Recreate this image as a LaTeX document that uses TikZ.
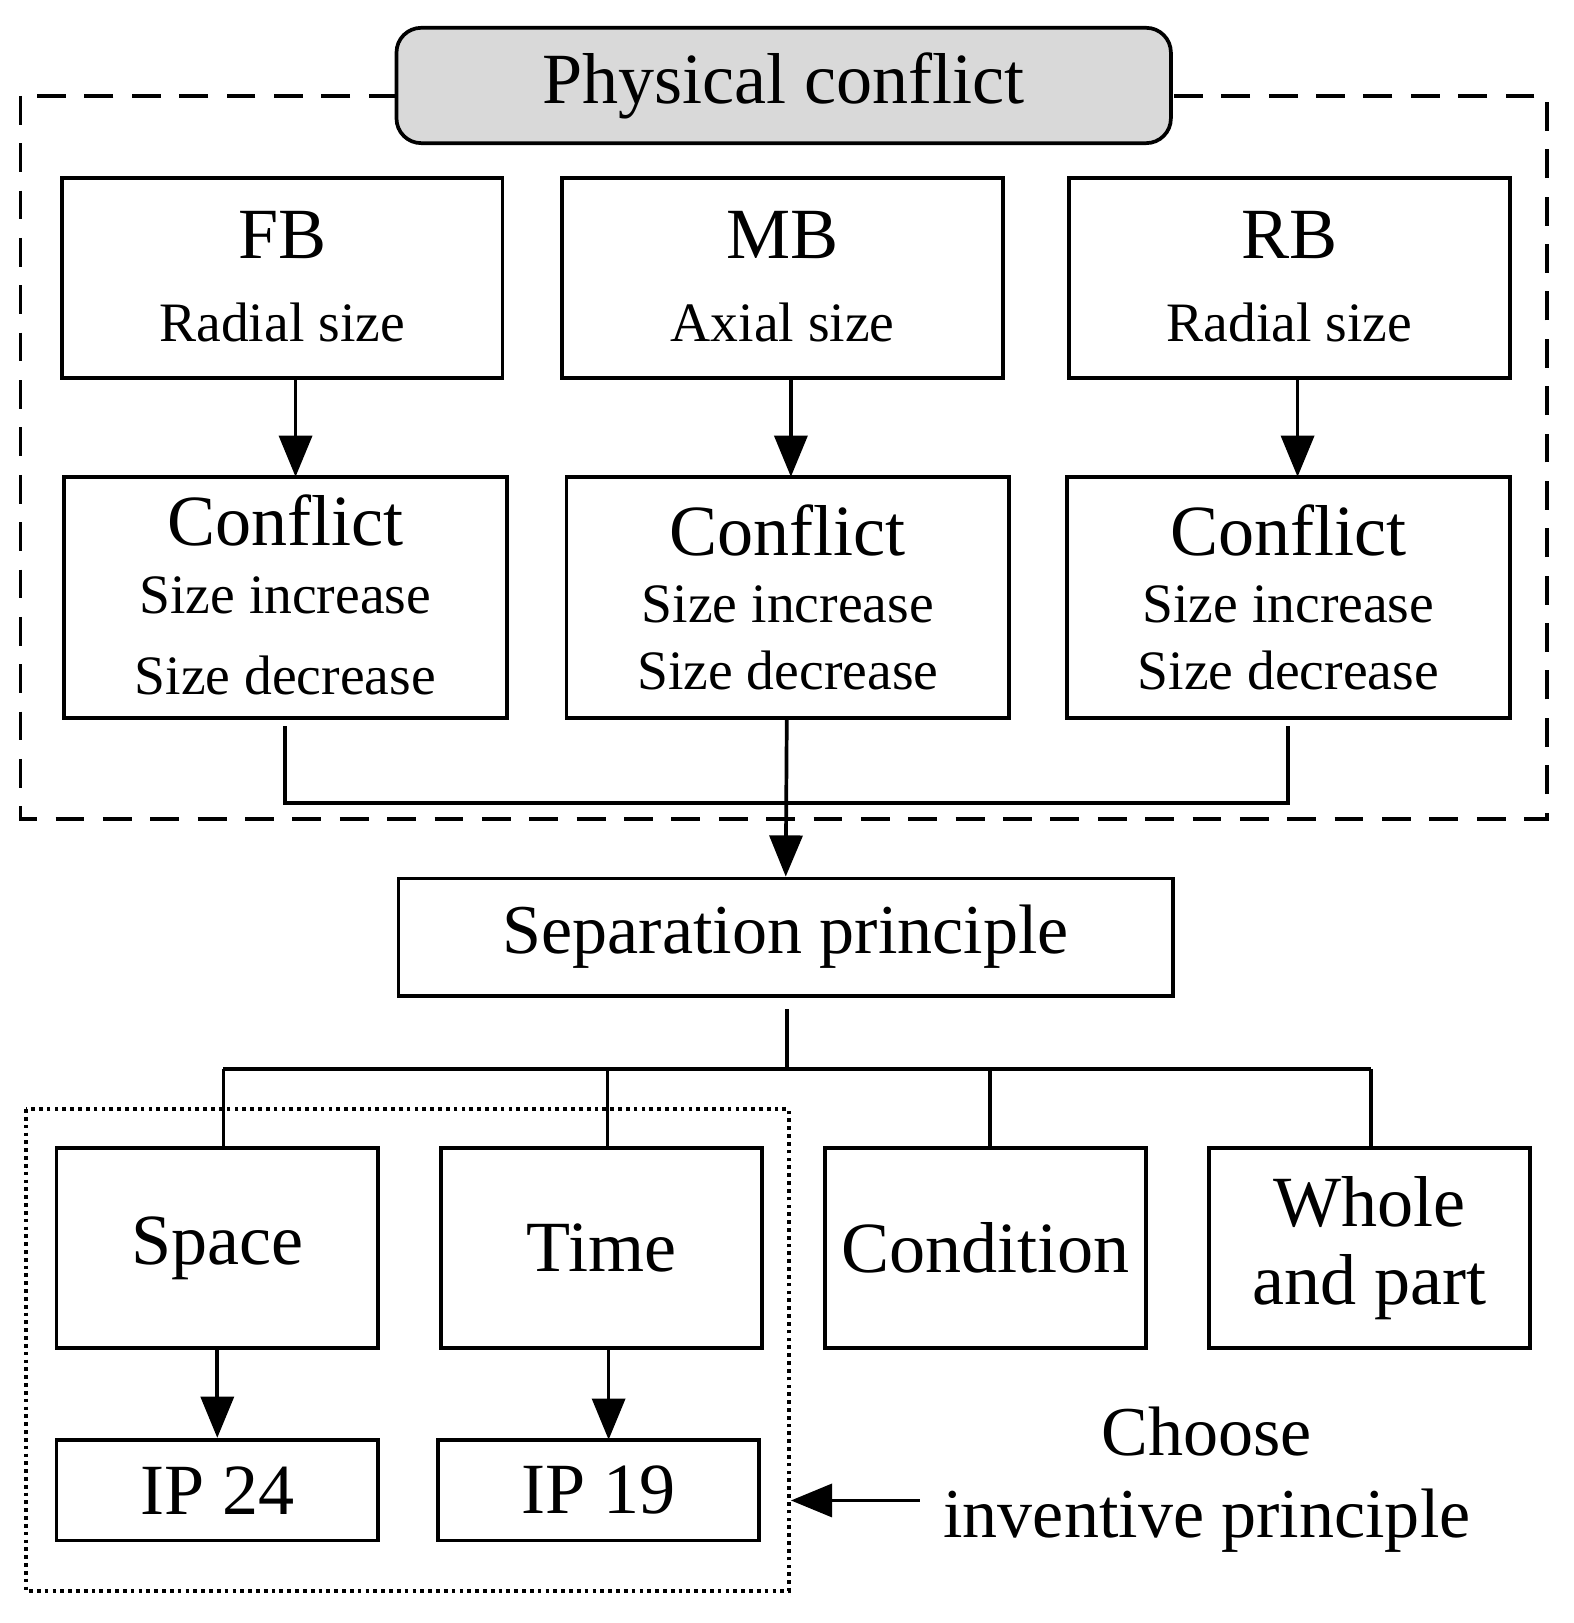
\documentclass[tikz,border=0pt]{standalone}
\usepackage{fontspec}
\setmainfont{Liberation Serif}
\usetikzlibrary{arrows.meta}
\begin{document}
\begin{tikzpicture}[x=0.5pt,y=-0.5pt,line width=1.8pt,
  box/.style={draw,inner sep=0pt},
  arr/.style={-{Triangle[length=20pt,width=16pt]}}]
\useasboundingbox (0,0) rectangle (1528,1576);
\draw[dash pattern=on 14pt off 9pt] (20,93) rectangle (1502,795);
\node[box,rounded corners=12pt,fill=gray!30,minimum width=376pt,minimum height=56pt,font=\fontsize{35}{38}\selectfont] (pc) at (761,83) {Physical conflict};
\foreach \n/\x/\a/\b in {fb/274/FB/Radial size, mb/760/MB/Axial size, rb/1252/RB/Radial size}{
  \node[box,minimum width=214pt,minimum height=97pt] (\n) at (\x,270) {};
  \node[font=\fontsize{35}{38}\selectfont] at (\x,228) {\a};
  \node[font=\fontsize{27}{30}\selectfont] at (\x,313) {\b};
}
\node[box,minimum width=215pt,minimum height=117pt] (c1) at (277,580) {};
\node[font=\fontsize{35}{38}\selectfont] at (277,505) {Conflict};
\node[font=\fontsize{27}{30}\selectfont] at (277,578) {Size increase};
\node[font=\fontsize{27}{30}\selectfont] at (277,656) {Size decrease};
\foreach \n/\x in {c2/765,c3/1251}{
  \node[box,minimum width=215pt,minimum height=117pt] (\n) at (\x,580) {};
  \node[font=\fontsize{35}{38}\selectfont] at (\x,515) {Conflict};
  \node[font=\fontsize{27}{30}\selectfont] at (\x,587) {Size increase};
  \node[font=\fontsize{27}{30}\selectfont] at (\x,651) {Size decrease};
}
\draw[arr] (287,367) -- (287,463);
\draw[arr] (768,367) -- (768,463);
\draw[arr] (1260,367) -- (1260,463);
\node[box,minimum width=376pt,minimum height=57pt,font=\fontsize{34}{38}\selectfont] (sp) at (763,910) {Separation principle};
\coordinate (j) at (764,780);
\draw (277,705) |- (j) -| (1251,705);
\draw[arr] (764,697) -- (sp.north);
\draw (764,980) -- (764,1038);
\draw (217,1038) -- (1331,1038);
\node[box,minimum width=156pt,minimum height=97pt,font=\fontsize{35}{38}\selectfont] (s) at (211,1212) {Space};
\node[box,minimum width=156pt,minimum height=97pt,font=\fontsize{35}{38}\selectfont] (t) at (584,1212) {Time};
\node[box,minimum width=156pt,minimum height=97pt,font=\fontsize{35}{38}\selectfont] (c) at (957,1212) {Condition};
\node[box,minimum width=156pt,minimum height=97pt,align=center,font=\fontsize{35}{40}\selectfont] (w) at (1330,1212) {Whole\\[-2pt]and part};
\draw (217,1038) -- (217,1115);
\draw (590,1038) -- (590,1115);
\draw (961,1038) -- (961,1115);
\draw (1331,1038) -- (1331,1115);
\node[box,minimum width=156pt,minimum height=49pt,font=\fontsize{35}{38}\selectfont] (i24) at (211,1447) {IP 24};
\node[box,minimum width=156pt,minimum height=49pt,font=\fontsize{35}{38}\selectfont] (i19) at (581,1447) {IP 19};
\draw[arr] (211,1310) -- (i24.north);
\draw[arr] (591,1310) -- (591,1398);
\draw[dotted,line width=1.8pt] (25,1077) rectangle (766,1545);
\node[align=center,font=\fontsize{34}{40}\selectfont] (ch) at (1172,1437) {Choose\\inventive principle};
\coordinate (dl) at (768,1457);
\draw[arr] (893,1457) -- (dl);
\end{tikzpicture}
\end{document}
